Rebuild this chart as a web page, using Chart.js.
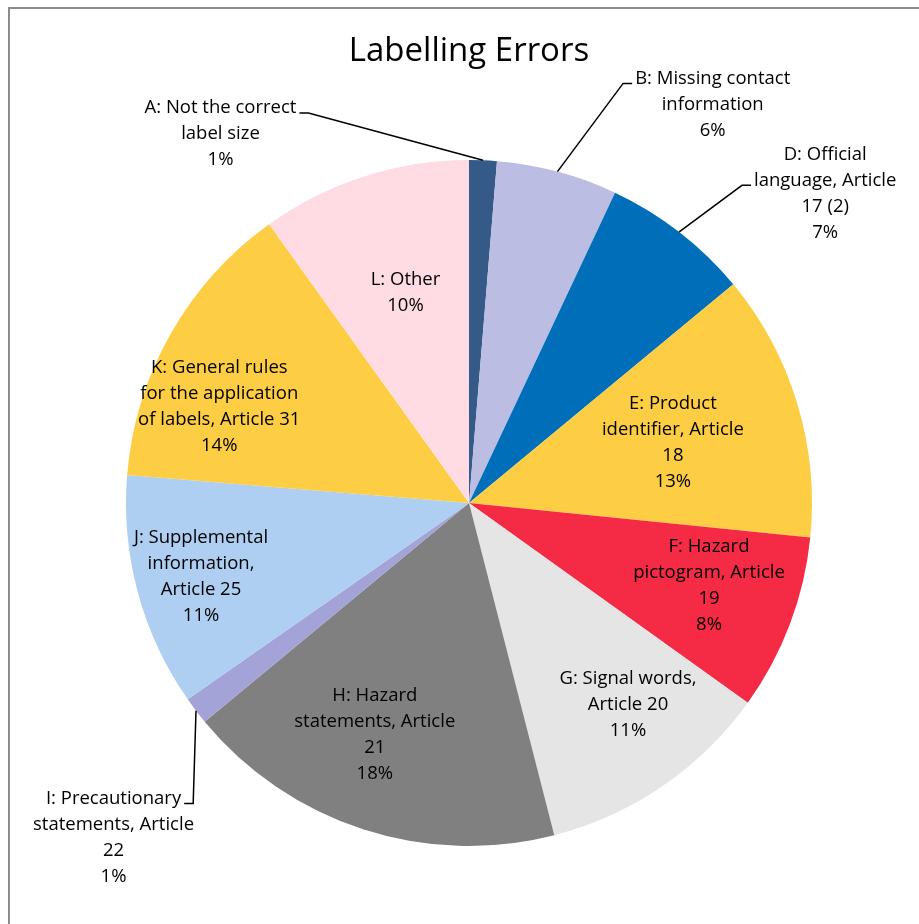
<!DOCTYPE html>
<html lang="en">
<head>
  <meta charset="UTF-8">
  <title>Labelling Errors</title>
  <script src="https://cdn.jsdelivr.net/npm/chart.js"></script>
  <style>
    body {
      margin: 0;
      padding: 0;
      background-color: #ffffff;
    }
    #chart {
      display: block;
    }
  </style>
</head>
<body>

<canvas id="chart" width="919" height="924"></canvas>

<script>
  // Categories, each split into the lines shown on the chart
  const categories = [
    ['A: Not the correct', 'label size'],
    ['B: Missing contact', 'information'],
    ['D: Official', 'language, Article', '17 (2)'],
    ['E: Product', 'identifier, Article', '18'],
    ['F: Hazard', 'pictogram, Article', '19'],
    ['G: Signal words,', 'Article 20'],
    ['H: Hazard', 'statements, Article', '21'],
    ['I: Precautionary', 'statements, Article', '22'],
    ['J: Supplemental', 'information,', 'Article 25'],
    ['K: General rules', 'for the application', 'of labels, Article 31'],
    ['L: Other']
  ];

  // Share of labelling errors (%)
  const shares = [1.3, 5.7, 7.0, 12.6, 8.3, 11.1, 18.0, 1.3, 11.0, 13.8, 9.9];

  const sliceColors = [
    '#365A88', '#BBBDE3', '#006EB8', '#FDCD44', '#F52A45', '#E5E5E5',
    '#808080', '#A3A3D7', '#AECFF1', '#FDCD44', '#FFDCE3'
  ];

  // label placement: [radius fraction, angle shift in degrees, leader line index or -1]
  const labelPlacement = [
    [1.297, -36.3, 0],
    [1.362, 16.5, 0],
    [1.376, 11.2, 1],
    [0.62, 0.4, -1],
    [0.74, -1.7, -1],
    [0.75, -3.8, -1],
    [0.73, 4.1, -1],
    [1.423, -6.0, 0],
    [0.81, -0.2, -1],
    [0.78, -8.5, -1],
    [0.64, 1.0, -1]
  ];

  const FONT = '18.5px "Open Sans", Lato, sans-serif';
  const LINE_H = 26;

  const frameAndLabels = {
    id: 'frameAndLabels',
    beforeDraw(chart) {
      const ctx = chart.ctx;
      ctx.save();
      ctx.strokeStyle = '#8C8C8C';
      ctx.lineWidth = 2;
      ctx.strokeRect(9, 8, 1000, 1000);
      ctx.fillStyle = '#000';
      ctx.font = '33px "Open Sans", Lato, sans-serif';
      ctx.textAlign = 'center';
      ctx.textBaseline = 'middle';
      ctx.fillText('Labelling Errors', 469, 52);
      ctx.restore();
    },
    afterDatasetsDraw(chart) {
      const ctx = chart.ctx;
      const meta = chart.getDatasetMeta(0);
      const total = shares.reduce((a, b) => a + b, 0);
      ctx.save();
      ctx.font = FONT;
      ctx.fillStyle = '#000';
      ctx.strokeStyle = '#000';
      ctx.lineWidth = 1.5;
      ctx.textAlign = 'center';
      ctx.textBaseline = 'middle';

      meta.data.forEach((arc, i) => {
        const p = arc.getProps(['x', 'y', 'startAngle', 'endAngle', 'outerRadius'], true);
        const mid = (p.startAngle + p.endAngle) / 2;
        const [frac, shift, leadLine] = labelPlacement[i];
        const ang = mid + shift * Math.PI / 180;
        const cx = p.x + Math.cos(ang) * p.outerRadius * frac;
        const cy = p.y + Math.sin(ang) * p.outerRadius * frac;

        const lines = categories[i].concat([Math.round(shares[i] / total * 100) + '%']);
        const top = cy - (lines.length - 1) * LINE_H / 2;
        lines.forEach((t, k) => ctx.fillText(t, cx, top + k * LINE_H));

        if (leadLine >= 0) {
          const ax = p.x + Math.cos(mid) * p.outerRadius;
          const ay = p.y + Math.sin(mid) * p.outerRadius;
          const w = ctx.measureText(lines[leadLine]).width;
          const ly = top + leadLine * LINE_H + 5;
          const textOnRight = cx > ax;
          const ex = textOnRight ? cx - w / 2 - 3 : cx + w / 2 + 3;
          const bx = textOnRight ? ex - 9 : ex + 9;
          ctx.beginPath();
          ctx.moveTo(ax, ay);
          ctx.lineTo(bx, ly);
          ctx.lineTo(ex, ly);
          ctx.stroke();
        }
      });
      ctx.restore();
    }
  };

  new Chart(document.getElementById('chart'), {
    type: 'pie',
    data: {
      labels: categories.map(c => c.join(' ')),
      datasets: [{
        data: shares,
        backgroundColor: sliceColors,
        borderWidth: 0,
        hoverOffset: 0
      }]
    },
    options: {
      responsive: false,
      animation: false,
      layout: {
        padding: { left: 126, right: 107, top: 160, bottom: 78 }
      },
      plugins: {
        legend: { display: false },
        tooltip: { enabled: false },
        title: { display: false }
      }
    },
    plugins: [frameAndLabels]
  });
</script>

</body>
</html>
